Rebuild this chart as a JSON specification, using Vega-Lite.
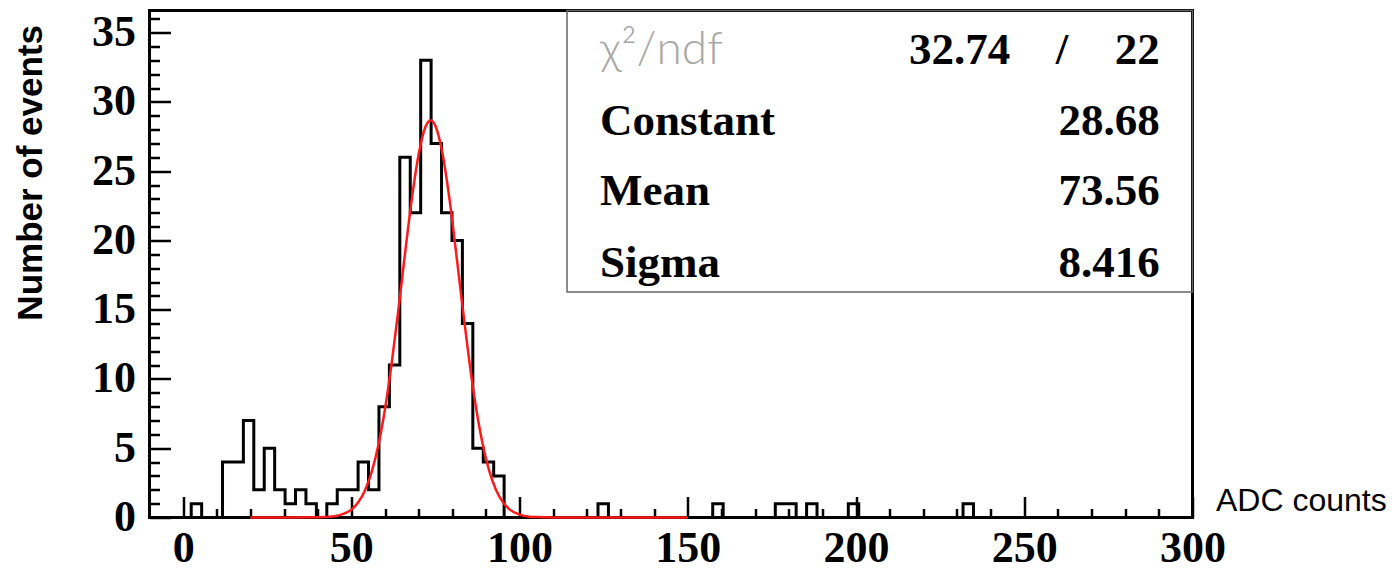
{
  "$schema": "https://vega.github.io/schema/vega-lite/v6.json",
  "width": 1043,
  "height": 507,
  "autosize": "none",
  "padding": {"left": 149.5, "top": 10.5, "right": 204.5, "bottom": 58.5},
  "background": "white",
  "config": {
    "view": {"stroke": "black", "strokeWidth": 3},
    "axis": {"grid": false, "domain": false}
  },
  "resolve": {"axis": {"x": "independent", "y": "independent"}},
  "datasets": {
    "hist": [
      {"adc": -10, "events": 0}, {"adc": -6.9, "events": 0}, {"adc": -3.8, "events": 0}, {"adc": -0.7, "events": 0},
      {"adc": 2.4, "events": 1}, {"adc": 5.5, "events": 0}, {"adc": 8.6, "events": 0}, {"adc": 11.7, "events": 4},
      {"adc": 14.8, "events": 4}, {"adc": 17.9, "events": 7}, {"adc": 21, "events": 2}, {"adc": 24.1, "events": 5},
      {"adc": 27.2, "events": 2}, {"adc": 30.3, "events": 1}, {"adc": 33.4, "events": 2}, {"adc": 36.5, "events": 1},
      {"adc": 39.6, "events": 0}, {"adc": 42.7, "events": 1}, {"adc": 45.8, "events": 2}, {"adc": 48.9, "events": 2},
      {"adc": 52, "events": 4}, {"adc": 55.1, "events": 2}, {"adc": 58.2, "events": 8}, {"adc": 61.3, "events": 11},
      {"adc": 64.4, "events": 26}, {"adc": 67.5, "events": 22}, {"adc": 70.6, "events": 33}, {"adc": 73.7, "events": 27},
      {"adc": 76.8, "events": 22}, {"adc": 79.9, "events": 20}, {"adc": 83, "events": 14}, {"adc": 86.1, "events": 5},
      {"adc": 89.2, "events": 4}, {"adc": 92.3, "events": 3}, {"adc": 95.4, "events": 0}, {"adc": 98.5, "events": 0},
      {"adc": 101.6, "events": 0}, {"adc": 104.7, "events": 0}, {"adc": 107.8, "events": 0}, {"adc": 110.9, "events": 0},
      {"adc": 114, "events": 0}, {"adc": 117.1, "events": 0}, {"adc": 120.2, "events": 0}, {"adc": 123.3, "events": 1},
      {"adc": 126.4, "events": 0}, {"adc": 129.5, "events": 0}, {"adc": 132.6, "events": 0}, {"adc": 135.7, "events": 0},
      {"adc": 138.8, "events": 0}, {"adc": 141.9, "events": 0}, {"adc": 145, "events": 0}, {"adc": 148.1, "events": 0},
      {"adc": 151.2, "events": 0}, {"adc": 154.3, "events": 0}, {"adc": 157.4, "events": 1}, {"adc": 160.5, "events": 0},
      {"adc": 163.6, "events": 0}, {"adc": 166.7, "events": 0}, {"adc": 169.8, "events": 0}, {"adc": 172.9, "events": 0},
      {"adc": 176, "events": 1}, {"adc": 179.1, "events": 1}, {"adc": 182.2, "events": 0}, {"adc": 185.3, "events": 1},
      {"adc": 188.4, "events": 0}, {"adc": 191.5, "events": 0}, {"adc": 194.6, "events": 0}, {"adc": 197.7, "events": 1},
      {"adc": 200.8, "events": 0}, {"adc": 203.9, "events": 0}, {"adc": 207, "events": 0}, {"adc": 210.1, "events": 0},
      {"adc": 213.2, "events": 0}, {"adc": 216.3, "events": 0}, {"adc": 219.4, "events": 0}, {"adc": 222.5, "events": 0},
      {"adc": 225.6, "events": 0}, {"adc": 228.7, "events": 0}, {"adc": 231.8, "events": 1}, {"adc": 234.9, "events": 0},
      {"adc": 238, "events": 0}, {"adc": 241.1, "events": 0}, {"adc": 244.2, "events": 0}, {"adc": 247.3, "events": 0},
      {"adc": 250.4, "events": 0}, {"adc": 253.5, "events": 0}, {"adc": 256.6, "events": 0}, {"adc": 259.7, "events": 0},
      {"adc": 262.8, "events": 0}, {"adc": 265.9, "events": 0}, {"adc": 269, "events": 0}, {"adc": 272.1, "events": 0},
      {"adc": 275.2, "events": 0}, {"adc": 278.3, "events": 0}, {"adc": 281.4, "events": 0}, {"adc": 284.5, "events": 0},
      {"adc": 287.6, "events": 0}, {"adc": 290.7, "events": 0}, {"adc": 293.8, "events": 0}, {"adc": 296.9, "events": 0},
      {"adc": 300, "events": 0}
    ],
    "fit": [
      {"adc": 20, "events": 0}, {"adc": 30, "events": 0}, {"adc": 40, "events": 0.01}, {"adc": 45, "events": 0.09},
      {"adc": 48, "events": 0.29}, {"adc": 50, "events": 0.57}, {"adc": 52, "events": 1.08}, {"adc": 54, "events": 1.93},
      {"adc": 56, "events": 3.25}, {"adc": 58, "events": 5.19}, {"adc": 60, "events": 7.83}, {"adc": 62, "events": 11.17},
      {"adc": 64, "events": 15.05}, {"adc": 66, "events": 19.16}, {"adc": 68, "events": 23.06}, {"adc": 70, "events": 26.22},
      {"adc": 72, "events": 28.19}, {"adc": 73.56, "events": 28.68}, {"adc": 75, "events": 28.26}, {"adc": 77, "events": 26.38},
      {"adc": 79, "events": 23.27}, {"adc": 81, "events": 19.4}, {"adc": 83, "events": 15.29}, {"adc": 85, "events": 11.39},
      {"adc": 87, "events": 8.01}, {"adc": 89, "events": 5.33}, {"adc": 91, "events": 3.35}, {"adc": 93, "events": 1.99},
      {"adc": 95, "events": 1.12}, {"adc": 97, "events": 0.59}, {"adc": 100, "events": 0.21}, {"adc": 103, "events": 0.06},
      {"adc": 105, "events": 0.03}, {"adc": 110, "events": 0}, {"adc": 150, "events": 0}
    ],
    "stats": [
      {"param": "χ²/ndf", "value": "32.74", "sep": "/", "ndf": "22"},
      {"param": "Constant", "value": "28.68"},
      {"param": "Mean", "value": "73.56"},
      {"param": "Sigma", "value": "8.416"}
    ]
  },
  "layer": [
    {
      "data": {"name": "hist"},
      "mark": {"type": "line", "interpolate": "step-after", "color": "black", "strokeWidth": 3, "strokeJoin": "miter", "strokeCap": "square"},
      "encoding": {
        "x": {
          "field": "adc", "type": "quantitative",
          "scale": {"domain": [-10, 300], "nice": false, "zero": false},
          "axis": {
            "orient": "bottom",
            "values": [0, 10, 20, 30, 40, 50, 60, 70, 80, 90, 100, 110, 120, 130, 140, 150, 160, 170, 180, 190, 200, 210, 220, 230, 240, 250, 260, 270, 280, 290, 300],
            "labelExpr": "datum.value % 50 === 0 ? datum.label : ''",
            "tickSize": {"condition": {"test": "datum.value % 50 === 0", "value": -21}, "value": -9},
            "tickWidth": 2.5, "tickColor": "black",
            "labelFont": "Liberation Serif", "labelFontWeight": "bold", "labelFontSize": 44, "labelColor": "black",
            "labelPadding": 30, "labelOverlap": false, "labelFlush": false, "labelBaseline": "top",
            "title": "ADC counts", "titleFont": "Liberation Sans", "titleFontWeight": "normal", "titleFontSize": 32,
            "titleColor": "black", "titleX": 1066, "titleY": -17, "titleAlign": "left", "titleBaseline": "middle", "titleAngle": 0
          }
        },
        "y": {
          "field": "events", "type": "quantitative",
          "scale": {"domain": [0, 36.6], "nice": false, "zero": false},
          "axis": {
            "orient": "left",
            "values": [0, 1, 2, 3, 4, 5, 6, 7, 8, 9, 10, 11, 12, 13, 14, 15, 16, 17, 18, 19, 20, 21, 22, 23, 24, 25, 26, 27, 28, 29, 30, 31, 32, 33, 34, 35, 36],
            "labelExpr": "datum.value % 5 === 0 ? datum.label : ''",
            "tickSize": {"condition": {"test": "datum.value % 5 === 0", "value": -21}, "value": -10},
            "tickWidth": 2.5, "tickColor": "black",
            "labelFont": "Liberation Serif", "labelFontWeight": "bold", "labelFontSize": 44, "labelColor": "black",
            "labelPadding": 35, "labelOverlap": false, "labelFlush": false, "labelBaseline": "middle",
            "title": "Number of events", "titleFont": "Liberation Sans", "titleFontWeight": "bold", "titleFontSize": 35,
            "titleColor": "black", "titleX": -119, "titleY": 14, "titleAlign": "right", "titleBaseline": "middle", "titleAngle": 270
          }
        }
      }
    },
    {
      "data": {"name": "fit"},
      "mark": {"type": "line", "interpolate": "monotone", "color": "#ff1a1a", "strokeWidth": 2.5},
      "encoding": {
        "x": {"field": "adc", "type": "quantitative", "scale": {"domain": [-10, 300], "nice": false, "zero": false}, "axis": null},
        "y": {"field": "events", "type": "quantitative", "scale": {"domain": [0, 36.6], "nice": false, "zero": false}, "axis": null}
      }
    },
    {
      "data": {"name": "stats"},
      "transform": [{"filter": "datum.param === 'Constant'"}],
      "mark": {"type": "rect", "fill": "transparent", "stroke": "#666666", "strokeWidth": 1.5},
      "encoding": {
        "x": {"datum": 114.1, "type": "quantitative", "axis": null},
        "x2": {"datum": 300},
        "y": {"datum": 16.28, "type": "quantitative", "axis": null},
        "y2": {"datum": 36.6}
      }
    },
    {
      "data": {"name": "stats"},
      "transform": [{"filter": "datum.param === 'χ²/ndf'"}],
      "mark": {"type": "text", "align": "left", "baseline": "alphabetic", "font": "Lato", "fontWeight": 300, "fontSize": 46, "color": "#a8a8a8"},
      "encoding": {
        "x": {"datum": 123.9, "type": "quantitative", "axis": null},
        "y": {"datum": 32.74, "type": "quantitative", "axis": null},
        "text": {"field": "param"}
      }
    },
    {
      "data": {"name": "stats"},
      "transform": [{"filter": "datum.param === 'χ²/ndf'"}],
      "mark": {"type": "text", "align": "right", "baseline": "alphabetic", "font": "Liberation Serif", "fontWeight": "bold", "fontSize": 45, "color": "black"},
      "encoding": {
        "x": {"datum": 245.8, "type": "quantitative", "axis": null},
        "y": {"datum": 32.74, "type": "quantitative", "axis": null},
        "text": {"field": "value"}
      }
    },
    {
      "data": {"name": "stats"},
      "transform": [{"filter": "datum.param === 'χ²/ndf'"}],
      "mark": {"type": "text", "align": "center", "baseline": "alphabetic", "font": "Liberation Serif", "fontWeight": "bold", "fontSize": 45, "color": "black"},
      "encoding": {
        "x": {"datum": 261.2, "type": "quantitative", "axis": null},
        "y": {"datum": 32.74, "type": "quantitative", "axis": null},
        "text": {"field": "sep"}
      }
    },
    {
      "data": {"name": "stats"},
      "transform": [{"filter": "datum.param === 'χ²/ndf'"}],
      "mark": {"type": "text", "align": "right", "baseline": "alphabetic", "font": "Liberation Serif", "fontWeight": "bold", "fontSize": 45, "color": "black"},
      "encoding": {
        "x": {"datum": 290.3, "type": "quantitative", "axis": null},
        "y": {"datum": 32.74, "type": "quantitative", "axis": null},
        "text": {"field": "ndf"}
      }
    },
    {
      "data": {"name": "stats"},
      "transform": [{"filter": "datum.param === 'Constant'"}],
      "mark": {"type": "text", "align": "left", "baseline": "alphabetic", "font": "Liberation Serif", "fontWeight": "bold", "fontSize": 45, "color": "black"},
      "encoding": {
        "x": {"datum": 123.9, "type": "quantitative", "axis": null},
        "y": {"datum": 27.6, "type": "quantitative", "axis": null},
        "text": {"field": "param"}
      }
    },
    {
      "data": {"name": "stats"},
      "transform": [{"filter": "datum.param === 'Constant'"}],
      "mark": {"type": "text", "align": "right", "baseline": "alphabetic", "font": "Liberation Serif", "fontWeight": "bold", "fontSize": 45, "color": "black"},
      "encoding": {
        "x": {"datum": 290.3, "type": "quantitative", "axis": null},
        "y": {"datum": 27.6, "type": "quantitative", "axis": null},
        "text": {"field": "value"}
      }
    },
    {
      "data": {"name": "stats"},
      "transform": [{"filter": "datum.param === 'Mean'"}],
      "mark": {"type": "text", "align": "left", "baseline": "alphabetic", "font": "Liberation Serif", "fontWeight": "bold", "fontSize": 45, "color": "black"},
      "encoding": {
        "x": {"datum": 123.9, "type": "quantitative", "axis": null},
        "y": {"datum": 22.56, "type": "quantitative", "axis": null},
        "text": {"field": "param"}
      }
    },
    {
      "data": {"name": "stats"},
      "transform": [{"filter": "datum.param === 'Mean'"}],
      "mark": {"type": "text", "align": "right", "baseline": "alphabetic", "font": "Liberation Serif", "fontWeight": "bold", "fontSize": 45, "color": "black"},
      "encoding": {
        "x": {"datum": 290.3, "type": "quantitative", "axis": null},
        "y": {"datum": 22.56, "type": "quantitative", "axis": null},
        "text": {"field": "value"}
      }
    },
    {
      "data": {"name": "stats"},
      "transform": [{"filter": "datum.param === 'Sigma'"}],
      "mark": {"type": "text", "align": "left", "baseline": "alphabetic", "font": "Liberation Serif", "fontWeight": "bold", "fontSize": 45, "color": "black"},
      "encoding": {
        "x": {"datum": 123.9, "type": "quantitative", "axis": null},
        "y": {"datum": 17.33, "type": "quantitative", "axis": null},
        "text": {"field": "param"}
      }
    },
    {
      "data": {"name": "stats"},
      "transform": [{"filter": "datum.param === 'Sigma'"}],
      "mark": {"type": "text", "align": "right", "baseline": "alphabetic", "font": "Liberation Serif", "fontWeight": "bold", "fontSize": 45, "color": "black"},
      "encoding": {
        "x": {"datum": 290.3, "type": "quantitative", "axis": null},
        "y": {"datum": 17.33, "type": "quantitative", "axis": null},
        "text": {"field": "value"}
      }
    }
  ]
}
